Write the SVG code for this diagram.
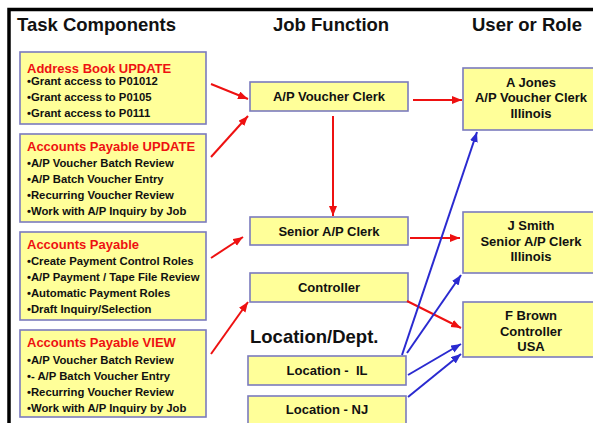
<svg xmlns="http://www.w3.org/2000/svg" width="593" height="423" viewBox="0 0 593 423">
<style>
.box{fill:#ffff99;stroke:#7b7bbd;stroke-width:1.6}
.h{font-family:"Liberation Sans",Arial,sans-serif;font-weight:bold;font-size:18.5px;fill:#111}
.t{font-family:"Liberation Sans",Arial,sans-serif;font-weight:bold;font-size:13px;fill:#ee1111}
.l{font-family:"Liberation Sans",Arial,sans-serif;font-weight:bold;font-size:11.3px;fill:#111}
.c{font-family:"Liberation Sans",Arial,sans-serif;font-weight:bold;font-size:13px;fill:#111;text-anchor:middle;white-space:pre}
.r{stroke:#ee1111;stroke-width:2;fill:none;marker-end:url(#ar)}
.b{stroke:#2a2ad0;stroke-width:2;fill:none;marker-end:url(#ab)}
</style>
<defs>
<marker id="ar" markerUnits="userSpaceOnUse" markerWidth="12" markerHeight="10" refX="10" refY="4" orient="auto"><path d="M0,0 L10,4 L0,8 Z" fill="#ee1111"/></marker>
<marker id="ab" markerUnits="userSpaceOnUse" markerWidth="12" markerHeight="10" refX="10" refY="4" orient="auto"><path d="M0,0 L10,4 L0,8 Z" fill="#2a2ad0"/></marker>
</defs>
<rect width="593" height="423" fill="#fff"/>
<path d="M9,423 V9.5 H593" fill="none" stroke="#000" stroke-width="3.5"/>
<g id="headers">
<text class="h" x="17" y="31">Task Components</text>
<text class="h" x="273" y="31">Job Function</text>
<text class="h" x="472" y="31">User or Role</text>
<text class="h" x="250" y="343">Location/Dept.</text>
</g>
<g id="task1">
<rect class="box" x="20" y="52" width="186" height="72"/>
<text class="t" x="27" y="72.5">Address Book UPDATE</text>
<text class="l" x="27" y="85">•Grant access to P01012</text>
<text class="l" x="27" y="101">•Grant access to P0105</text>
<text class="l" x="27" y="117">•Grant access to P0111</text>
</g>
<g id="task2">
<rect class="box" x="20" y="134" width="186" height="88"/>
<text class="t" x="27" y="150.5">Accounts Payable UPDATE</text>
<text class="l" x="27" y="167">•A/P Voucher Batch Review</text>
<text class="l" x="27" y="183">•A/P Batch Voucher Entry</text>
<text class="l" x="27" y="199">•Recurring Voucher Review</text>
<text class="l" x="27" y="215">•Work with A/P Inquiry by Job</text>
</g>
<g id="task3">
<rect class="box" x="20" y="232" width="186" height="88"/>
<text class="t" x="27" y="248.5">Accounts Payable</text>
<text class="l" x="27" y="265">•Create Payment Control Roles</text>
<text class="l" x="27" y="281">•A/P Payment / Tape File Review</text>
<text class="l" x="27" y="297">•Automatic Payment Roles</text>
<text class="l" x="27" y="313">•Draft Inquiry/Selection</text>
</g>
<g id="task4">
<rect class="box" x="20" y="330" width="186" height="87"/>
<text class="t" x="27" y="346.5">Accounts Payable VIEW</text>
<text class="l" x="27" y="364">•A/P Voucher Batch Review</text>
<text class="l" x="27" y="380">•- A/P Batch Voucher Entry</text>
<text class="l" x="27" y="396">•Recurring Voucher Review</text>
<text class="l" x="27" y="412">•Work with A/P Inquiry by Job</text>
</g>
<g id="job1">
<rect class="box" x="250" y="82" width="158" height="29"/>
<text class="c" x="329" y="100.7">A/P Voucher Clerk</text>
</g>
<g id="job2">
<rect class="box" x="250" y="217" width="158" height="28"/>
<text class="c" x="329" y="235.5">Senior A/P Clerk</text>
</g>
<g id="job3">
<rect class="box" x="250" y="273" width="158" height="29"/>
<text class="c" x="329" y="291.5">Controller</text>
</g>
<g id="locIL">
<rect class="box" x="248" y="356" width="158" height="29"/>
<text class="c" x="327" y="374.5">Location -  IL</text>
</g>
<g id="locNJ">
<rect class="box" x="248" y="396" width="158" height="30"/>
<text class="c" x="327" y="413.5">Location - NJ</text>
</g>
<g id="userJones">
<rect class="box" x="463" y="68" width="140" height="62"/>
<text class="c" x="531" y="86.5">A Jones</text>
<text class="c" x="531" y="101.5">A/P Voucher Clerk</text>
<text class="c" x="531" y="117.5">Illinois</text>
</g>
<g id="userSmith">
<rect class="box" x="463" y="212" width="140" height="61"/>
<text class="c" x="531" y="229.5">J Smith</text>
<text class="c" x="531" y="245.5">Senior A/P Clerk</text>
<text class="c" x="531" y="260.5">Illinois</text>
</g>
<g id="userBrown">
<rect class="box" x="463" y="302" width="140" height="55"/>
<text class="c" x="531" y="319.5">F Brown</text>
<text class="c" x="531" y="335.5">Controller</text>
<text class="c" x="531" y="350.5">USA</text>
</g>
<g id="connectors">
<line class="r" x1="211" y1="84" x2="248" y2="99"/>
<line class="r" x1="211" y1="157" x2="248" y2="116"/>
<line class="r" x1="211" y1="258" x2="243" y2="237"/>
<line class="r" x1="211" y1="354" x2="248" y2="302"/>
<line class="r" x1="413" y1="100" x2="462" y2="100"/>
<line class="r" x1="333" y1="116" x2="333" y2="216"/>
<line class="r" x1="410" y1="238" x2="460" y2="238"/>
<line class="r" x1="407" y1="301" x2="461" y2="328"/>
<line class="b" x1="402" y1="355" x2="477" y2="132"/>
<line class="b" x1="407" y1="353" x2="461" y2="275"/>
<line class="b" x1="408" y1="375" x2="461" y2="344"/>
<line class="b" x1="408" y1="397" x2="461" y2="354"/>
</g>
</svg>
